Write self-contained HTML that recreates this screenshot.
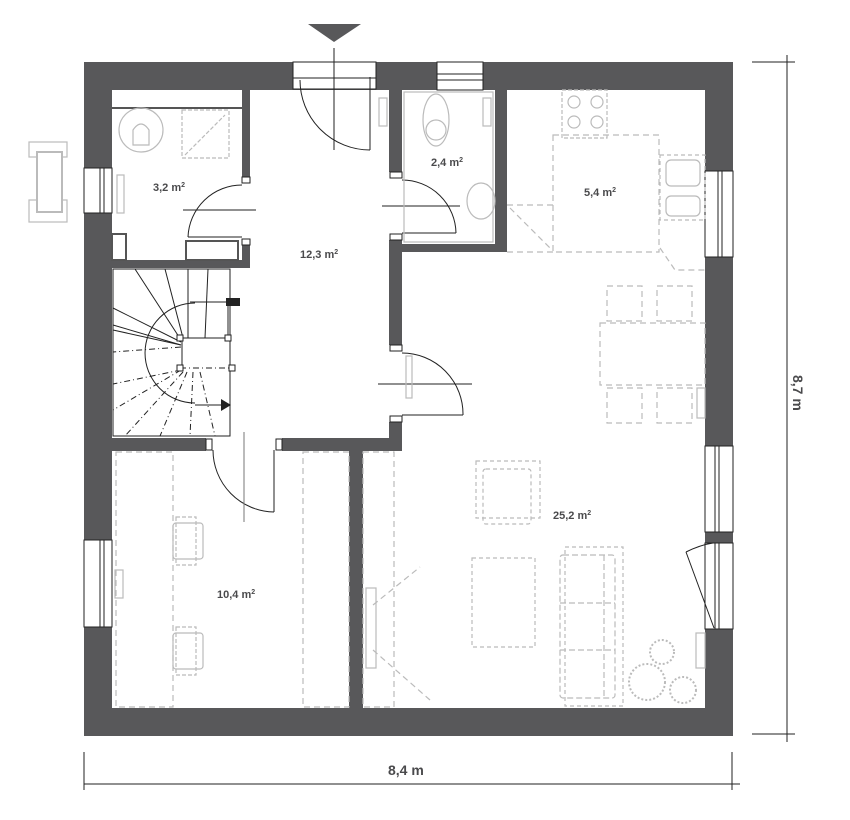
<!DOCTYPE html>
<html><head><meta charset="utf-8"><style>
html,body{margin:0;padding:0;background:#fff;}
svg{display:block;}
text{font-family:"Liberation Sans",sans-serif;font-weight:bold;fill:#4a4a4c;}
</style></head><body>
<svg width="850" height="820" viewBox="0 0 850 820" xmlns="http://www.w3.org/2000/svg">
<g fill="#58585a">
<rect x="84" y="62" width="649" height="28"/>
<rect x="84" y="708" width="649" height="28"/>
<rect x="84" y="62" width="28" height="674"/>
<rect x="705" y="62" width="28" height="674"/>
<rect x="242" y="90" width="8" height="178"/>
<rect x="112" y="260" width="138" height="8"/>
<rect x="389" y="62" width="13" height="388"/>
<rect x="402" y="244" width="105" height="8"/>
<rect x="495" y="90" width="12" height="162"/>
<rect x="112" y="438" width="290" height="13"/>
<rect x="349" y="450" width="14" height="258"/>
</g>
<g fill="#fff" stroke="#222" stroke-width="1">
<rect x="293" y="62" width="83" height="27"/>
<rect x="437" y="62" width="46" height="28"/>
<rect x="84" y="168" width="28" height="45"/>
<rect x="84" y="540" width="28" height="87"/>
<rect x="705" y="171" width="28" height="86"/>
<rect x="705" y="446" width="28" height="86"/>
<rect x="705" y="543" width="28" height="86"/>
</g>
<g fill="#fff" stroke="none">
<rect x="242" y="177" width="9" height="68"/>
<rect x="389" y="172" width="14" height="68"/>
<rect x="389" y="345" width="14" height="77"/>
<rect x="206" y="438" width="76" height="13"/>
</g>
<g stroke="#222" stroke-width="1" fill="none">
<line x1="293" y1="78" x2="376" y2="78"/>
<line x1="437" y1="74" x2="483" y2="74"/><line x1="437" y1="80" x2="483" y2="80"/>
<line x1="100" y1="168" x2="100" y2="213"/><line x1="104" y1="168" x2="104" y2="213"/>
<line x1="100" y1="540" x2="100" y2="627"/><line x1="104" y1="540" x2="104" y2="627"/>
<line x1="718" y1="171" x2="718" y2="257"/><line x1="722" y1="171" x2="722" y2="257"/>
<line x1="715" y1="446" x2="715" y2="532"/><line x1="719" y1="446" x2="719" y2="532"/>
<line x1="715" y1="543" x2="715" y2="629"/><line x1="719" y1="543" x2="719" y2="629"/>
<rect x="242" y="177" width="8" height="6"/><rect x="242" y="239" width="8" height="6"/>
<rect x="390" y="172" width="12" height="6"/><rect x="390" y="234" width="12" height="6"/>
<rect x="390" y="345" width="12" height="6"/><rect x="390" y="416" width="12" height="6"/>
<rect x="206" y="439" width="6" height="11"/><rect x="276" y="439" width="6" height="11"/>
<path d="M300 80 A70 70 0 0 0 370 150"/><line x1="370" y1="77" x2="370" y2="150"/>
<line x1="334" y1="48" x2="334" y2="150"/>
<path d="M242 185 A54 54 0 0 0 188 237"/><line x1="188" y1="237" x2="242" y2="237"/>
<line x1="183" y1="210" x2="256" y2="210"/>
<path d="M402 180 A54 54 0 0 1 456 233"/><line x1="402" y1="233" x2="456" y2="233"/>
<line x1="382" y1="206" x2="460" y2="206"/>
<path d="M402 353 A61 61 0 0 1 463 415"/><line x1="402" y1="415" x2="463" y2="415"/>
<line x1="378" y1="384" x2="472" y2="384"/>
<path d="M213 450 A62 62 0 0 0 274 512"/><line x1="274" y1="450" x2="274" y2="512"/>
<line x1="244" y1="432" x2="244" y2="522" stroke="#777"/>
<path d="M686 552 L714 628"/><path d="M686 552 Q700 545 713 543"/>
<rect x="113" y="269" width="117" height="167"/>
<path d="M195 303 A50 50 0 0 0 195 403"/>
<line x1="181" y1="345" x2="113" y2="330"/>
<line x1="181" y1="345" x2="113" y2="325"/>
<line x1="181" y1="342" x2="113" y2="308"/>
<line x1="181" y1="340" x2="135" y2="269"/>
<line x1="183" y1="338" x2="165" y2="269"/>
<line x1="188" y1="338" x2="188" y2="269"/>
<line x1="205" y1="338" x2="208" y2="269"/>
<line x1="181" y1="347" x2="113" y2="352" stroke-dasharray="6 3 1 3"/>
<line x1="181" y1="370" x2="113" y2="384" stroke-dasharray="6 3 1 3"/>
<line x1="181" y1="370" x2="113" y2="410" stroke-dasharray="6 3 1 3"/>
<line x1="183" y1="372" x2="125" y2="436" stroke-dasharray="6 3 1 3"/>
<line x1="187" y1="372" x2="160" y2="436" stroke-dasharray="6 3 1 3"/>
<line x1="193" y1="372" x2="190" y2="436" stroke-dasharray="6 3 1 3"/>
<line x1="200" y1="372" x2="215" y2="436" stroke-dasharray="6 3 1 3"/>
<line x1="180" y1="338" x2="228" y2="338"/>
<line x1="182" y1="338" x2="182" y2="368"/>
<line x1="180" y1="368" x2="232" y2="368" stroke-dasharray="6 3 1 3"/>
<line x1="228" y1="302" x2="228" y2="338"/>
<line x1="190" y1="302" x2="235" y2="302"/>
<line x1="230" y1="368" x2="230" y2="436" stroke-dasharray="6 3 1 3"/>
<line x1="195" y1="405" x2="225" y2="405"/>
</g>
<polygon points="221,399 231,405 221,411" fill="#222"/>
<rect x="226" y="298" width="14" height="8" fill="#222"/>
<g fill="#fff" stroke="#222"><rect x="177" y="335" width="6" height="6"/><rect x="225" y="335" width="6" height="6"/><rect x="177" y="365" width="6" height="6"/><rect x="229" y="365" width="6" height="6"/></g>
<g stroke="#555" fill="none"><line x1="112" y1="108" x2="242" y2="108" stroke-width="2"/>
<rect x="112" y="234" width="14" height="26" stroke-width="2"/>
<rect x="186" y="241" width="52" height="19" stroke-width="2"/></g>
<g stroke="#bbb" fill="none" stroke-width="1.2">
<circle cx="141" cy="130" r="22"/>
<path d="M133 145 L133 130 Q141 118 149 130 L149 145 Z"/>
<rect x="182" y="110" width="47" height="48" stroke-dasharray="4 2"/>
<line x1="185" y1="155" x2="225" y2="115" stroke-dasharray="4 2"/>
<rect x="117" y="175" width="7" height="38"/>
<rect x="404" y="92" width="89" height="150"/>
<ellipse cx="436" cy="120" rx="13" ry="26"/><circle cx="436" cy="130" r="10"/>
<rect x="483" y="98" width="8" height="28"/>
<ellipse cx="481" cy="201" rx="14" ry="18"/>
<rect x="379" y="98" width="8" height="28"/>
<rect x="406" y="356" width="6" height="42"/>
<rect x="562" y="90" width="45" height="48" stroke-dasharray="4 2"/>
<circle cx="574" cy="102" r="6"/><circle cx="597" cy="102" r="6"/><circle cx="574" cy="122" r="6"/><circle cx="597" cy="122" r="6"/>
<rect x="553" y="135" width="106" height="117" stroke-dasharray="6 4"/>
<path d="M507 205 L553 205 M507 252 L553 252 M510 208 L552 250" stroke-dasharray="6 4"/>
<rect x="660" y="155" width="45" height="65" stroke-dasharray="4 3"/>
<rect x="666" y="160" width="34" height="26" rx="5"/>
<rect x="666" y="196" width="34" height="20" rx="5"/>
<path d="M660 248 L675 270 L705 270" stroke-dasharray="6 4"/>
<rect x="600" y="323" width="105" height="62" stroke-dasharray="6 4"/>
<rect x="607" y="286" width="35" height="35" stroke-dasharray="6 4"/>
<rect x="657" y="286" width="35" height="35" stroke-dasharray="6 4"/>
<rect x="607" y="388" width="35" height="35" stroke-dasharray="6 4"/>
<rect x="657" y="388" width="35" height="35" stroke-dasharray="6 4"/>
<rect x="697" y="388" width="8" height="30"/>
<rect x="476" y="461" width="64" height="57" stroke-dasharray="4 3"/>
<rect x="483" y="469" width="48" height="55" rx="3" stroke-dasharray="4 3"/>
<rect x="472" y="558" width="63" height="89" stroke-dasharray="4 3"/>
<rect x="565" y="547" width="58" height="159" stroke-dasharray="4 3"/>
<rect x="560" y="555" width="55" height="143" rx="3" stroke-dasharray="6 3"/>
<line x1="560" y1="603" x2="615" y2="603" stroke-dasharray="6 3"/>
<line x1="560" y1="650" x2="615" y2="650" stroke-dasharray="6 3"/>
<line x1="604" y1="555" x2="604" y2="698" stroke-dasharray="6 3"/>
<rect x="696" y="633" width="9" height="35"/>
<circle cx="647" cy="682" r="18" stroke-dasharray="2 2" stroke-width="2"/>
<circle cx="662" cy="652" r="12" stroke-dasharray="2 2" stroke-width="2"/>
<circle cx="683" cy="690" r="13" stroke-dasharray="2 2" stroke-width="2"/>
<rect x="116" y="452" width="57" height="255" stroke-dasharray="6 4"/>
<rect x="173" y="523" width="30" height="36" rx="3"/>
<rect x="176" y="517" width="20" height="48" stroke-dasharray="4 2"/>
<rect x="173" y="633" width="30" height="36" rx="3"/>
<rect x="176" y="627" width="20" height="48" stroke-dasharray="4 2"/>
<rect x="115" y="570" width="8" height="28"/>
<rect x="303" y="452" width="46" height="255" stroke-dasharray="6 4"/>
<rect x="363" y="452" width="31" height="255" stroke-dasharray="6 4"/>
<rect x="366" y="588" width="10" height="80"/>
<line x1="373" y1="605" x2="420" y2="567" stroke-dasharray="6 4"/>
<line x1="373" y1="650" x2="430" y2="700" stroke-dasharray="6 4"/>
<rect x="29" y="142" width="38" height="15"/>
<rect x="29" y="200" width="38" height="22"/>
<rect x="37" y="152" width="25" height="60" fill="#fff" stroke-width="2"/>
</g>
<polygon points="308,24 361,24 334,42" fill="#58585a"/>
<g stroke="#222" stroke-width="1" fill="none">
<line x1="84" y1="784" x2="740" y2="784"/>
<line x1="84" y1="752" x2="84" y2="790"/>
<line x1="732" y1="752" x2="732" y2="790"/>
<line x1="787" y1="55" x2="787" y2="742"/>
<line x1="752" y1="62" x2="795" y2="62"/>
<line x1="752" y1="734" x2="795" y2="734"/>
</g>
<text x="388" y="775" font-size="14">8,4 m</text>
<text transform="translate(793,375) rotate(90)" font-size="14">8,7 m</text>
<g font-size="11">
<text x="153" y="191">3,2 m<tspan font-size="7" dy="-4">2</tspan></text>
<text x="300" y="258">12,3 m<tspan font-size="7" dy="-4">2</tspan></text>
<text x="431" y="166">2,4 m<tspan font-size="7" dy="-4">2</tspan></text>
<text x="584" y="196">5,4 m<tspan font-size="7" dy="-4">2</tspan></text>
<text x="553" y="519">25,2 m<tspan font-size="7" dy="-4">2</tspan></text>
<text x="217" y="598">10,4 m<tspan font-size="7" dy="-4">2</tspan></text>
</g>
</svg>
</body></html>
